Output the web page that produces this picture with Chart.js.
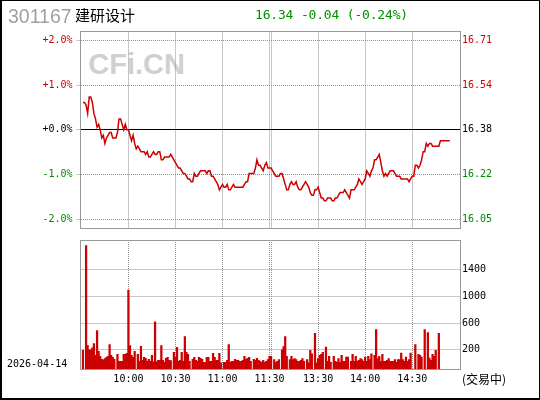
<!DOCTYPE html>
<html lang="zh-CN">
<head>
<meta charset="utf-8">
<title>301167 建研设计</title>
<script src="https://cdn.jsdelivr.net/npm/chart.js@4.4.1/dist/chart.umd.min.js"></script>
<style>
  html, body { margin: 0; padding: 0; background: #fff; }
  #wrap { position: relative; width: 540px; height: 400px; overflow: hidden; background: #fff; }
  #wrap canvas { position: absolute; left: 0; z-index: 1; }
  #priceCanvas { top: 0; }
  #volCanvas { top: 232px; }
  .txt { position: absolute; white-space: nowrap; z-index: 2; }
  #code { left: 8px; top: 6.8px; font: 19.5px/1 "Liberation Sans", Arial, sans-serif; color: #a0a0a0; }
  #name { left: 75px; top: 7px; font: 15px/1 "Noto Sans CJK SC", sans-serif; color: #000; }
  #quote { left: 255px; top: 8.3px; font: 13px/1 "DejaVu Sans Mono", monospace; letter-spacing: -0.18px; color: #009000; }
  #mark { left: 88.3px; top: 50.4px; font: bold 29px/1 "Liberation Sans", Arial, sans-serif; color: #d0d0d0; z-index: 0; }
  #date { left: 7px; top: 358.8px; font: 10px/1 "DejaVu Sans Mono", monospace; color: #000; }
  #state { left: 462px; top: 373.4px; font: 12px/1 "Noto Sans CJK SC", sans-serif; color: #000; }
  #frame { position: absolute; left: 0; top: 0; width: 540px; height: 400px; box-sizing: border-box;
           border: solid #000; border-width: 1px 1px 2px 2px; z-index: 3; }
</style>
</head>
<body>
<div id="wrap">
  <div class="txt" id="mark">CFi.CN</div>
  <canvas id="priceCanvas" width="540" height="240"></canvas>
  <canvas id="volCanvas" width="540" height="168"></canvas>
  <div class="txt" id="code">301167</div>
  <div class="txt" id="name">建研设计</div>
  <div class="txt" id="quote">16.34 -0.04 (-0.24%)</div>
  <div class="txt" id="date">2026-04-14</div>
  <div class="txt" id="state">(交易中)</div>
  <div id="frame"></div>
</div>
<script>
// ---- data ----
const prevClose = 16.38;
const pctRange = 2.2;
const pctTicks = [2, 1, 0, -1, -2];
const volMin = -95;
const volMax = 1846;
const volTicks = [200, 600, 1000, 1400];
const gridTimes = ['10:00', '10:30', '11:00', '11:30', '13:00', '13:30', '14:00', '14:30'];
const labelTimes = ['10:00', '10:30', '11:00', '11:30', '13:30', '14:00', '14:30'];

// minute slots 9:30-11:30 and 13:00-15:00
const times = [];
function hhmm(m) {
    return Math.floor(m / 60) + ':' + String(m % 60).padStart(2, '0');
}
for (let m = 570; m <= 690; m++) times.push(hhmm(m));
for (let m = 780; m <= 900; m++) times.push(hhmm(m));

// last price per minute
const prices = [
    null, 16.48, 16.48, 16.47, 16.44, 16.50, 16.50, 16.48, 16.44, 16.42,
    16.39, 16.40, 16.38, 16.35, 16.36, 16.33, 16.35, 16.36, 16.37, 16.37,
    16.35, 16.35, 16.35, 16.37, 16.42, 16.42, 16.40, 16.38, 16.40, 16.38,
    16.38, 16.36, 16.34, 16.36, 16.33, 16.31, 16.32, 16.31, 16.30, 16.30,
    16.30, 16.29, 16.30, 16.28, 16.28, 16.29, 16.30, 16.29, 16.29, 16.30,
    16.30, 16.27, 16.27, 16.28, 16.28, 16.28, 16.28, 16.29, 16.28, 16.27,
    16.26, 16.25, 16.24, 16.24, 16.23, 16.22, 16.22, 16.21, 16.20, 16.20,
    16.19, 16.19, 16.22, 16.21, 16.21, 16.22, 16.23, 16.23, 16.23, 16.23,
    16.22, 16.23, 16.23, 16.21, 16.21, 16.20, 16.19, 16.18, 16.16, 16.17,
    16.18, 16.17, 16.17, 16.18, 16.16, 16.16, 16.17, 16.18, 16.17, 16.17,
    16.17, 16.17, 16.17, 16.17, 16.18, 16.19, 16.19, 16.22, 16.22, 16.22,
    16.22, 16.24, 16.27, 16.25, 16.25, 16.24, 16.23, 16.25, 16.26, 16.24,
    16.24, 16.24, 16.23, 16.22, 16.21, 16.21, 16.21, 16.22, 16.22, 16.20,
    16.18, 16.16, 16.16, 16.18, 16.19, 16.18, 16.18, 16.19, 16.17, 16.16,
    16.16, 16.17, 16.18, 16.19, 16.18, 16.17, 16.15, 16.14, 16.14, 16.16,
    16.16, 16.17, 16.15, 16.13, 16.13, 16.12, 16.12, 16.13, 16.13, 16.13,
    16.12, 16.12, 16.13, 16.13, 16.14, 16.15, 16.15, 16.15, 16.16, 16.15,
    16.14, 16.13, 16.16, 16.16, 16.16, 16.17, 16.18, 16.20, 16.19, 16.18,
    16.19, 16.20, 16.23, 16.22, 16.21, 16.23, 16.24, 16.27, 16.27, 16.28,
    16.29, 16.26, 16.23, 16.21, 16.22, 16.21, 16.22, 16.23, 16.23, 16.23,
    16.22, 16.21, 16.21, 16.21, 16.20, 16.20, 16.20, 16.20, 16.20, 16.19,
    16.20, 16.21, 16.21, 16.25, 16.25, 16.24, 16.25, 16.27, 16.30, 16.30,
    16.33, 16.32, 16.33, 16.33, 16.32, 16.32, 16.32, 16.32, 16.32, 16.34,
    16.34, 16.34, 16.34, 16.34, 16.34, 16.34
];

// volume per minute (null = no bar)
const volumes = [
    null, 190, null, 1761, 264, 200, 200, 230, 294, 116,
    487, 175, 101, 57, 47, 67, 86, 101, 279, 116,
    86, 57, null, 131, 27, 27, 27, 131, 131, 146,
    1094, 264, 116, 86, 175, null, 131, 27, 250, 42,
    86, 72, 27, 57, 27, 116, 17, 620, 17, 42,
    42, 264, 42, 12, 72, 86, 42, 37, null, 160,
    86, 235, 27, 42, 160, 27, 398, 160, 131, 27,
    null, 57, 86, 42, 27, 86, 72, 57, 12, 12,
    86, 86, 27, 27, 146, 86, 42, 42, 146, 5,
    null, 12, 12, 42, 279, 12, 27, 27, 57, 42,
    42, 27, 27, 42, 101, 57, 72, 86, 27, null,
    57, 42, 72, 42, 27, 12, 41, 12, 27, 51,
    101, 101, null, 51, 12, 27, 51, null, 200, 249,
    397, 101, null, 51, 101, 51, 66, 51, 27, 27,
    41, 66, 27, null, 51, 3, 190, 140, null, 447,
    3, 66, 116, 130, 160, null, 239, 27, 101, 12,
    null, 101, 27, 12, 66, 12, 116, 27, 27, 91,
    91, null, 27, 130, 27, 101, 27, 41, 66, 51,
    27, 91, 27, 101, 51, 140, null, 116, 501, 66,
    101, 27, 130, 27, 27, 41, 66, 27, 27, 27,
    51, 12, 51, 51, 150, 51, 27, 91, 27, 51,
    150, null, null, 278, null, 130, 116, 91, null, 501,
    null, 456, 76, 41, 130, 101, 190, null, 447
];

// ---- style ----
const RED = '#cc0000';
const GREEN = '#008800';
const GRID = '#909090';
const NONE = 'rgba(0,0,0,0)';

Chart.defaults.font.family = "'DejaVu Sans Mono', monospace";
Chart.defaults.font.size = 10;
Chart.defaults.color = '#000';

function sideColor(v) {
    if (v > 1e-9) return RED;
    if (v < -1e-9) return GREEN;
    return '#000';
}

// grey box round the plot area
const boxPlugin = {
    id: 'box',
    afterDraw(chart) {
        const a = chart.chartArea;
        const c = chart.ctx;
        const x0 = Math.floor(a.left) + 0.5, x1 = Math.floor(a.right) + 0.5;
        const y0 = Math.floor(a.top) + 0.5, y1 = Math.floor(a.bottom) + 0.5;
        c.save();
        c.strokeStyle = '#999';
        c.lineWidth = 1;
        c.strokeRect(x0, y0, x1 - x0, y1 - y0);
        c.restore();
    }
};

const timeGrid = ctx => gridTimes.includes(times[ctx.index]) ? GRID : NONE;

/* ===========================
   PRICE
=========================== */

new Chart(document.getElementById('priceCanvas'), {
    type: 'line',
    data: {
        labels: times,
        datasets: [{
            data: prices,
            yAxisID: 'yPrice',
            borderColor: RED,
            borderWidth: 1.5,
            pointRadius: 0,
            tension: 0,
            spanGaps: false
        }]
    },
    options: {
        responsive: false,
        animation: false,
        events: [],
        layout: { padding: { top: 31.4, left: 0, right: 0, bottom: 0 } },
        plugins: { legend: { display: false }, tooltip: { enabled: false } },
        scales: {
            x: {
                type: 'category',
                offset: true,
                grid: { offset: false, color: timeGrid, drawTicks: false },
                border: { display: false, dash: [1, 1] },
                ticks: { display: false, autoSkip: false },
                afterFit: s => { s.height = 11.8; }
            },
            yPct: {
                position: 'left',
                min: -pctRange,
                max: pctRange,
                afterBuildTicks: s => { s.ticks = pctTicks.map(v => ({ value: v })); },
                grid: {
                    color: ctx => (ctx.tick && ctx.tick.value === 0) ? NONE : GRID,
                    tickLength: 4,
                    tickColor: GRID,
                    tickBorderDash: [1, 1]
                },
                border: { display: false, dash: [1, 1] },
                ticks: {
                    padding: 4,
                    color: ctx => sideColor(ctx.tick.value),
                    callback: v => (v >= 0 ? '+' : '') + v.toFixed(1) + '%'
                },
                afterFit: s => { s.width = 80.6; }
            },
            yPrice: {
                position: 'right',
                min: prevClose * (1 - pctRange / 100),
                max: prevClose * (1 + pctRange / 100),
                afterBuildTicks: s => {
                    s.ticks = pctTicks.map(p => ({ value: prevClose * (1 + p / 100) }));
                },
                grid: {
                    color: ctx => (ctx.tick && Math.abs(ctx.tick.value - prevClose) < 1e-6) ? '#000' : NONE,
                    drawTicks: false
                },
                border: { display: false },
                ticks: {
                    padding: 2,
                    color: ctx => sideColor(ctx.tick.value - prevClose),
                    callback: v => v.toFixed(2)
                },
                afterFit: s => { s.width = 80; }
            }
        }
    },
    plugins: [boxPlugin]
});

/* ===========================
   VOLUME
=========================== */

new Chart(document.getElementById('volCanvas'), {
    type: 'bar',
    data: {
        labels: times,
        datasets: [{
            data: volumes,
            base: volMin,
            backgroundColor: RED,
            borderWidth: 0,
            barThickness: 1.6
        }]
    },
    options: {
        responsive: false,
        animation: false,
        events: [],
        layout: { padding: { top: 6.4, left: 80.6, right: 0, bottom: 0 } },
        plugins: { legend: { display: false }, tooltip: { enabled: false } },
        scales: {
            x: {
                offset: true,
                grid: { offset: false, color: timeGrid, drawTicks: false },
                border: { display: false, dash: [1, 1] },
                ticks: {
                    autoSkip: false,
                    maxRotation: 0,
                    padding: 4,
                    color: '#000',
                    callback: (v, i) => labelTimes.includes(times[i]) ? times[i] : ''
                },
                afterFit: s => { s.height = 30.6; }
            },
            y: {
                position: 'right',
                min: volMin,
                max: volMax,
                afterBuildTicks: s => { s.ticks = volTicks.map(v => ({ value: v })); },
                grid: { color: GRID, drawTicks: false },
                border: { display: false, dash: [1, 1] },
                ticks: { padding: 2, color: '#000', callback: v => String(v) },
                afterFit: s => { s.width = 80; }
            }
        }
    },
    plugins: [boxPlugin]
});
</script>
</body>
</html>
